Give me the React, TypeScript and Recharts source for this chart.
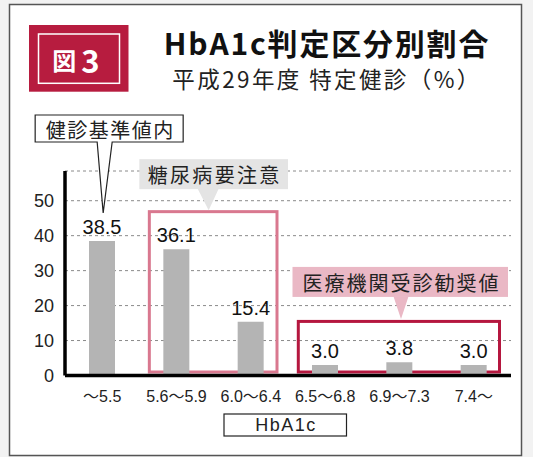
import { BarChart, Bar, XAxis, YAxis, CartesianGrid, ReferenceArea, LabelList } from "recharts";

const categories = ["～5.5", "5.6～5.9", "6.0～6.4", "6.5～6.8", "6.9～7.3", "7.4～"];
const shares = [38.5, 36.1, 15.4, 3.0, 3.8, 3.0];
const yTicks = [0, 10, 20, 30, 40, 50];

const data = categories.map((range, i) => ({ range, share: shares[i] }));

const JP = '"Noto Sans CJK JP", sans-serif';
const NUM = '"Liberation Sans", "Noto Sans CJK JP", sans-serif';

// callout over the first band
const NormalCallout = (p: any) => {
  const cx = p.x + p.width / 2;
  const d = `M${cx - 67},115 H${cx + 81} V142 H${cx + 10} L${cx + 1},213 L${cx - 5},142 H${cx - 67} Z`;
  return (
    <g>
      <path d={d} fill="#fff" stroke="#222" strokeWidth={1.2} />
      <text x={cx + 8} y={129} textAnchor="middle" dominantBaseline="central" fontSize={20} letterSpacing={1.5} fill="#222" fontFamily={JP}>
        健診基準値内
      </text>
    </g>
  );
};

// pink outline + grey label
const CautionBox = (p: any) => {
  const left = p.x + 8.5;
  const right = p.x + p.width - 9.5;
  const cx = p.x + p.width / 2;
  const top = p.y;
  return (
    <g>
      <rect x={left + 1.5} y={top + 1.5} width={right - left - 3} height={p.height - 5} fill="none" stroke="#d9788f" strokeWidth={3} />
      <rect x={p.x} y={top - 51} width={p.width} height={30} fill="#e4e4e4" />
      <path d={`M${cx - 16},${top - 21.5} L${cx - 5},${top} L${cx + 5},${top - 21.5} Z`} fill="#e4e4e4" />
      <text x={cx + 1} y={top - 36} textAnchor="middle" dominantBaseline="central" fontSize={20} letterSpacing={2.3} fill="#222" fontFamily={JP}>
        糖尿病要注意
      </text>
    </g>
  );
};

// dark red outline + pink label
const ReferralBox = (p: any) => {
  const left = p.x + 8.8;
  const right = p.x + p.width - 10;
  const cx = p.x + p.width / 2;
  const top = p.y;
  return (
    <g>
      <rect x={left + 1.5} y={top + 1.5} width={right - left - 3} height={p.height - 5} fill="none" stroke="#b5173f" strokeWidth={3} />
      <rect x={p.x + 4.5} y={top - 53} width={p.width - 7.5} height={30} fill="#eab8c5" />
      <path d={`M${cx - 6},${top - 23.5} L${cx + 1.5},${top - 1} L${cx + 9},${top - 23.5} Z`} fill="#eab8c5" />
      <text x={cx + 2} y={top - 37} textAnchor="middle" dominantBaseline="central" fontSize={20} letterSpacing={2} fill="#222" fontFamily={JP}>
        医療機関受診勧奨値
      </text>
    </g>
  );
};

export default function App() {
  return (
    <div style={{ position: "absolute", left: 0, top: 0, width: 533, height: 457, background: "#f2f2f2", overflow: "hidden" }}>
      <svg width={533} height={457} style={{ position: "absolute", left: 0, top: 0 }}>
        <rect x={9.5} y={4.5} width={512} height={451} fill="#fff" stroke="#555" strokeWidth={1.5} />
        <rect x={29} y={25} width={99.5} height={66.7} fill="#b71c3f" />
        <rect x={38.5} y={34} width={81} height={49.3} fill="none" stroke="#fff" strokeWidth={1.5} />
        <text x={76} y={59} textAnchor="middle" dominantBaseline="central" fill="#fff" fontFamily={JP} fontWeight={700}>
          <tspan fontSize={24}>図</tspan>
          <tspan fontSize={31} dx={5}>3</tspan>
        </text>
        <text x={327} y={42} textAnchor="middle" dominantBaseline="central" fontSize={30} fontWeight={700} letterSpacing={1.8} fill="#111" fontFamily={JP}>
          HbA1c判定区分別割合
        </text>
        <text x={327} y={78} textAnchor="middle" dominantBaseline="central" fontSize={22.5} letterSpacing={2.4} fill="#222" fontFamily={JP}>
          平成29年度 特定健診（%）
        </text>
        <rect x={224} y={414} width={122.5} height={22} fill="#fff" stroke="#222" strokeWidth={1.2} />
        <text x={286} y={425} textAnchor="middle" dominantBaseline="central" fontSize={18} letterSpacing={1.5} fill="#222" fontFamily={NUM}>
          HbA1c
        </text>
      </svg>
      <div style={{ position: "absolute", left: 0, top: 0 }}>
        <BarChart width={533} height={457} data={data} margin={{ top: 171, right: 22, bottom: 0, left: 0 }} barCategoryGap={0}>
          <CartesianGrid vertical={false} stroke="#8a8a8a" strokeDasharray="3 3" />
          <XAxis
            dataKey="range"
            height={81.5}
            tickLine={false}
            tickSize={0}
            tickMargin={15}
            axisLine={{ stroke: "#000", strokeWidth: 3.5 }}
            tick={{ fill: "#222", fontSize: 16, fontFamily: NUM }}
            interval={0}
          />
          <YAxis
            domain={[0, 58.5]}
            ticks={yTicks}
            width={65}
            tickLine={false}
            tickSize={0}
            tickMargin={11}
            axisLine={{ stroke: "#000", strokeWidth: 3.5 }}
            tick={{ fill: "#222", fontSize: 18, fontFamily: NUM }}
            allowDataOverflow
          />
          <Bar dataKey="share" fill="#b4b4b4" barSize={26} isAnimationActive={false}>
            <LabelList
              dataKey="share"
              position="top"
              offset={7}
              fill="#111"
              stroke="none"
              fontWeight={400}
              fontSize={20}
              fontFamily={NUM}
              formatter={(v: any) => Number(v).toFixed(1)}
            />
          </Bar>
          <ReferenceArea x1="～5.5" x2="～5.5" y1={0} y2={40} ifOverflow="visible" shape={NormalCallout} />
          <ReferenceArea x1="5.6～5.9" x2="6.0～6.4" y1={0} y2={47.3} ifOverflow="visible" shape={CautionBox} />
          <ReferenceArea x1="6.5～6.8" x2="7.4～" y1={0} y2={15.9} ifOverflow="visible" shape={ReferralBox} />
        </BarChart>
      </div>
    </div>
  );
}
